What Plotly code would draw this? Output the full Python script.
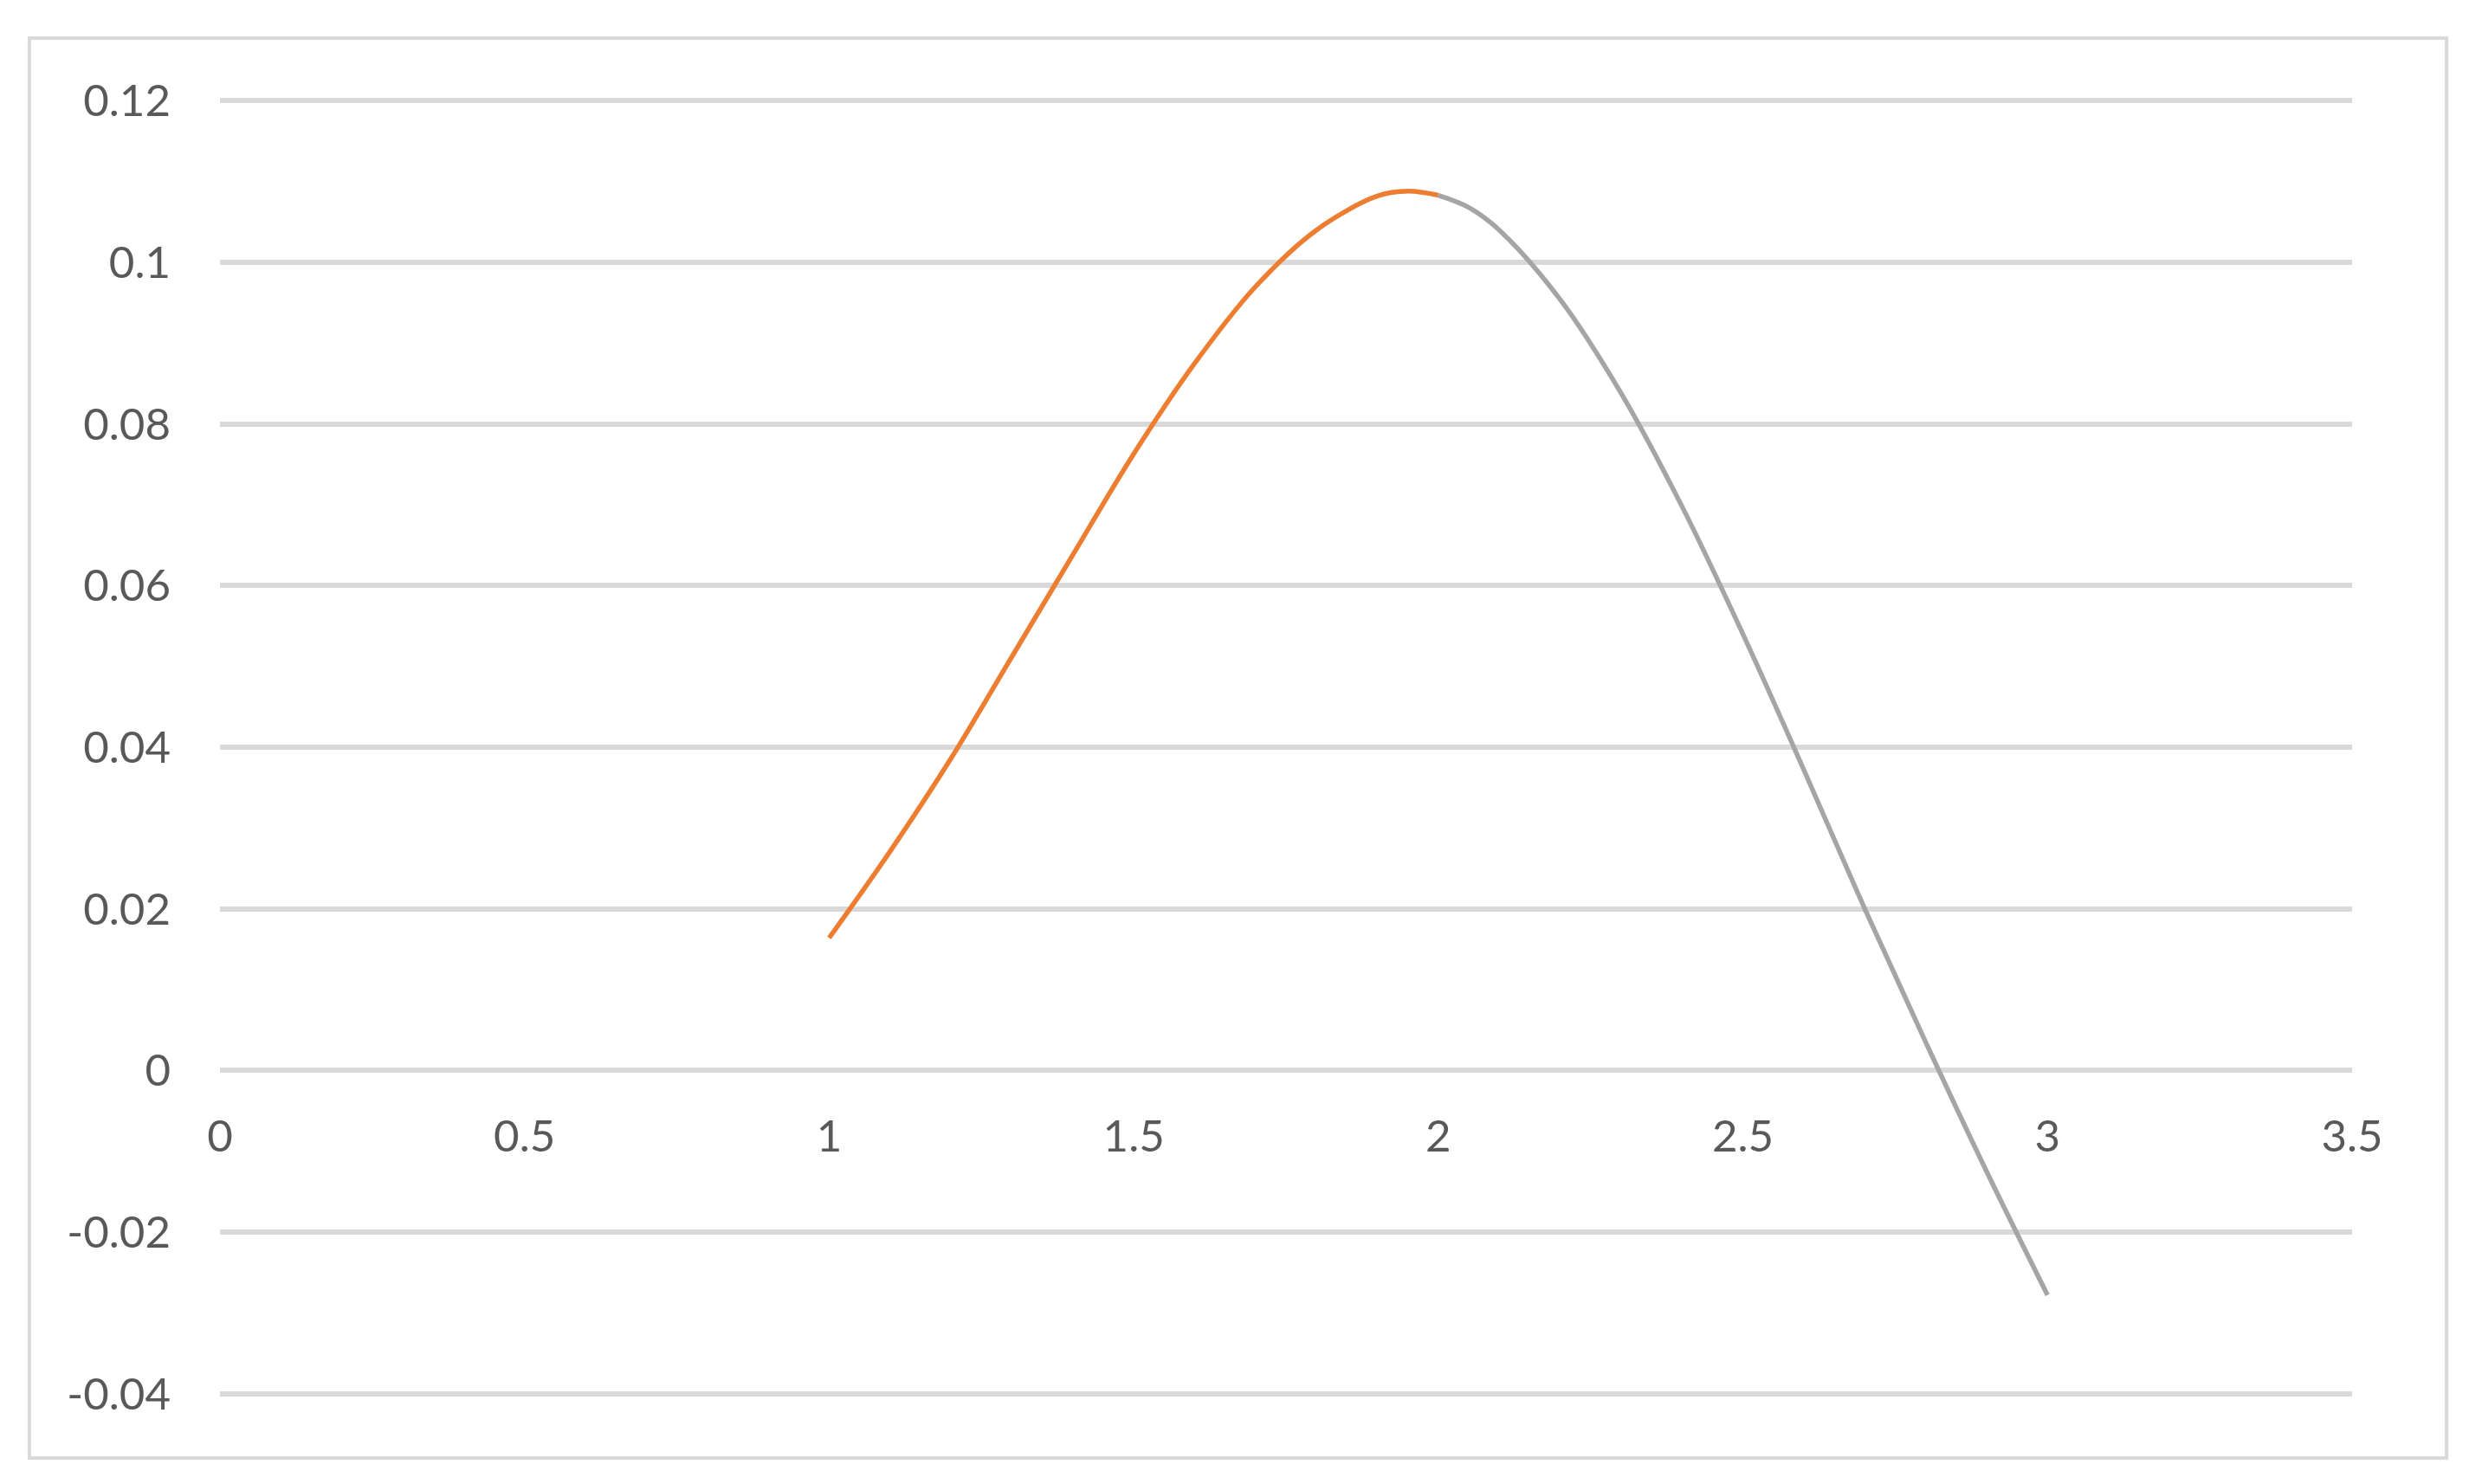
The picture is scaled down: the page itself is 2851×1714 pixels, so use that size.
import plotly.graph_objects as go

# values
x_rise = [1.0, 1.1, 1.2, 1.3, 1.4, 1.5, 1.6, 1.7, 1.8, 1.9, 1.95, 2.0]
y_rise = [0.0164, 0.0271, 0.0386, 0.0512, 0.0638, 0.0763, 0.0875,
          0.0970, 0.1040, 0.1082, 0.1088, 0.1083]

x_fall = [2.0, 2.05, 2.1, 2.2, 2.3, 2.4, 2.5, 2.6, 2.7, 2.8, 2.9, 3.0]
y_fall = [0.1083, 0.1068, 0.1040, 0.0954, 0.0838, 0.0698, 0.0540, 0.0372,
          0.0200, 0.0035, -0.0125, -0.0278]

x_ticks = [0, 0.5, 1, 1.5, 2, 2.5, 3, 3.5]
y_ticks = [-0.04, -0.02, 0, 0.02, 0.04, 0.06, 0.08, 0.1, 0.12]

ORANGE = "#ED7D31"
GREY = "#A5A5A5"
GRID = "#D9D9D9"
TEXT = "#595959"

fig = go.Figure()
fig.add_trace(go.Scatter(x=x_rise, y=y_rise, mode="lines",
                         line=dict(color=ORANGE, width=5.5, shape="spline", smoothing=1)))
fig.add_trace(go.Scatter(x=x_fall, y=y_fall, mode="lines",
                         line=dict(color=GREY, width=5.5, shape="spline", smoothing=1)))

fig.update_layout(
    width=2851, height=1714,
    margin=dict(l=246, r=143, t=99, b=103),
    paper_bgcolor="white", plot_bgcolor="white",
    showlegend=False,
    font=dict(family="Lato, Carlito, sans-serif", size=51, color=TEXT),
    xaxis=dict(
        range=[0, 3.5], tickvals=x_ticks, ticktext=[f"{v:g}" for v in x_ticks],
        showgrid=False, zeroline=False, showline=False,
        anchor="free", position=0.041 / 0.162, ticks="", ticklabelstandoff=42,
    ),
    yaxis=dict(
        range=[-0.041, 0.121], tickvals=y_ticks, ticktext=[f"{v:g}" for v in y_ticks],
        showgrid=True, gridcolor=GRID, gridwidth=5.5,
        zeroline=True, zerolinecolor=GRID, zerolinewidth=5.5,
        showline=False, ticks="", ticklabelstandoff=56,
    ),
)

# chart area border
fig.add_shape(type="rect", xref="paper", yref="paper",
              x0=-0.0894, x1=1.0443, y0=-0.0430, y1=1.0417,
              line=dict(color=GRID, width=4), layer="below")

fig.write_html("out.html")
